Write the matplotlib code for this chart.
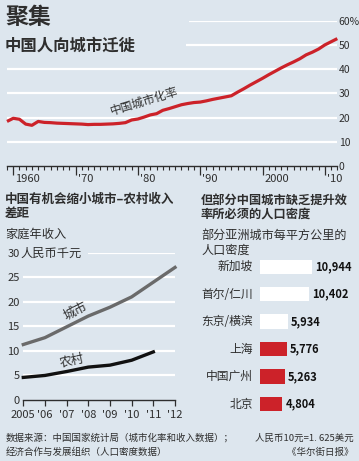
import numpy as np
import matplotlib
matplotlib.use("Agg")
import matplotlib.pyplot as plt

plt.rcParams['font.family'] = ['Noto Sans CJK SC', 'DejaVu Sans']

# ---- data ----
years_urb = list(range(1959, 2013))
urban_rate = [18.4, 19.7, 19.3, 17.3, 16.8, 18.4, 18.0, 17.9, 17.7, 17.6,
              17.5, 17.4, 17.3, 17.1, 17.2, 17.2, 17.3, 17.4, 17.6, 17.9,
              19.0, 19.4, 20.2, 21.1, 21.6, 23.0, 23.7, 24.5, 25.3, 25.8,
              26.2, 26.4, 26.9, 27.5, 28.0, 28.5, 29.0, 30.5, 31.9, 33.4,
              34.8, 36.2, 37.7, 39.1, 40.5, 41.8, 43.0, 44.3, 45.9, 47.0,
              48.3, 50.0, 51.3, 52.6]
urb_ticks = [1960, 1970, 1980, 1990, 2000, 2010]
urb_ticklabels = ['1960', "'70", "'80", "'90", '2000', "'10"]
urb_yticks = [0, 10, 20, 30, 40, 50, 60]
urb_yticklabels = ['0', '10', '20', '30', '40', '50', '60%']

inc_years = [2005, 2006, 2007, 2008, 2009, 2010, 2011, 2012]
inc_labels = ['2005', "'06", "'07", "'08", "'09", "'10", "'11", "'12"]
urban_income = [11.3, 12.7, 14.9, 17.1, 18.9, 21.0, 24.0, 27.0]
rural_years = [2005, 2006, 2007, 2008, 2009, 2010, 2011]
rural_income = [4.6, 5.0, 5.8, 6.7, 7.1, 8.1, 9.8]

cities = ['新加坡', '首尔/仁川', '东京/横滨', '上海', '中国广州', '北京']
density = [10944, 10402, 5934, 5776, 5263, 4804]
is_china = [False, False, False, True, True, True]

BG = '#dde6ee'
RED = '#cc2229'
TXT = '#2e2e2e'
W, H = 359, 461


def rect(x0, y0, x1, y1):
    return [x0 / W, 1 - y1 / H, (x1 - x0) / W, (y1 - y0) / H]


def fxy(x, y):
    return x / W, 1 - y / H


fig = plt.figure(figsize=(W / 100, H / 100), dpi=100, facecolor=BG)

# ---- top: urbanisation ----
ax = fig.add_axes(rect(7, 20.7, 337.3, 166))
ax.set_facecolor('none')
ax.set_xlim(1959, 2012)
ax.set_ylim(0, 60)
for s in ['top', 'left', 'right']:
    ax.spines[s].set_visible(False)
ax.spines['bottom'].set_color(TXT)
ax.spines['bottom'].set_linewidth(1)
grid_start = {10: 1959, 20: 1959, 30: 1959, 40: 1959, 50: 1987.7, 60: 1988.2}
for v in urb_yticks[1:]:
    ax.hlines(v, grid_start[v], 2012, color='white', lw=1.6, zorder=1)
ax.plot(years_urb, urban_rate, color=RED, lw=2.3, zorder=3,
        solid_capstyle='butt', clip_on=False)
ax.set_xticks(urb_ticks)
ax.set_xticklabels([])
ax.set_xticks(years_urb, minor=True)
ax.tick_params(axis='x', which='major', length=6.5, width=0.9, color=TXT)
ax.tick_params(axis='x', which='minor', length=3.2, width=0.8, color=TXT)
for t, lab in zip(urb_ticks, urb_ticklabels):
    ax.text(t + 0.35, -5.4, lab, ha='left', va='center', fontsize=8,
            color=TXT, clip_on=False)
ax.yaxis.tick_right()
ax.set_yticks(urb_yticks)
ax.set_yticklabels(urb_yticklabels, fontsize=7.5, color=TXT)
ax.tick_params(axis='y', length=0, pad=1)
ax.text(1981.0, 26.9, '中国城市化率', rotation=17, ha='center', va='center',
        fontsize=8.5, color=TXT)

fig.text(*fxy(5, 18), '聚集', fontsize=16.5, fontweight='bold', color=TXT,
         va='center', ha='left')
fig.text(*fxy(5, 46), '中国人向城市迁徙', fontsize=11.8, fontweight='bold',
         color=TXT, va='center', ha='left')

# ---- bottom left: income ----
ax2 = fig.add_axes(rect(23.3, 252.7, 175, 400))
ax2.set_facecolor('none')
ax2.set_xlim(2005, 2012)
ax2.set_ylim(0, 30)
for s in ['top', 'left', 'right']:
    ax2.spines[s].set_visible(False)
ax2.spines['bottom'].set_color(TXT)
ax2.spines['bottom'].set_linewidth(1)
for v in [5, 10, 15, 20, 25]:
    ax2.hlines(v, 2005, 2012, color='white', lw=1.6, zorder=1)
ax2.hlines(30, 2008, 2012, color='white', lw=1.6, zorder=1)
ax2.plot(inc_years, urban_income, color='#6a6a6a', lw=2.4, zorder=3,
         clip_on=False)
ax2.plot(rural_years, rural_income, color='#111111', lw=2.4, zorder=3,
         clip_on=False)
ax2.set_xticks(inc_years)
ax2.set_xticklabels(inc_labels, fontsize=8, color=TXT)
ax2.tick_params(axis='x', length=4.3, width=0.9, color=TXT, pad=3)
ax2.set_yticks([0, 5, 10, 15, 20, 25, 30])
ax2.set_yticklabels(['0', '5', '10', '15', '20', '25', '30'], fontsize=8,
                    color=TXT)
ax2.tick_params(axis='y', length=0, pad=2.6)
fig.text(*fxy(20, 253), '人民币千元', fontsize=8.8, color=TXT, va='center',
         ha='left')
ax2.text(2007.43, 18.1, '城市', rotation=27, ha='center', va='center',
         fontsize=9, color=TXT)
ax2.text(2007.25, 7.9, '农村', rotation=12, ha='center', va='center',
         fontsize=9, color=TXT)

fig.text(*fxy(5, 199), '中国有机会缩小城市–农村收入', fontsize=9,
         fontweight='bold', color=TXT, va='center', ha='left')
fig.text(*fxy(5, 214), '差距', fontsize=9, fontweight='bold', color=TXT,
         va='center', ha='left')
fig.text(*fxy(5, 234), '家庭年收入', fontsize=8.8, color=TXT, va='center',
         ha='left')

# ---- bottom right: density bars ----
ax3 = fig.add_axes(rect(259.5, 252.95, 350, 417.75))
ax3.set_facecolor('none')
ax3.set_xlim(0, 90.5 / 4.77 * 1000)
ax3.set_ylim(len(cities) - 0.5, -0.5)
ax3.axis('off')
ypos = np.arange(len(cities))
colors = [RED if c else 'white' for c in is_china]
ax3.barh(ypos, density, height=0.52, color=colors, edgecolor='none')
for y, name, d in zip(ypos, cities, density):
    ax3.annotate(name, (0, y), xytext=(-4.5, 0), textcoords='offset points',
                 ha='right', va='center', fontsize=8.5, color=TXT,
                 annotation_clip=False)
    ax3.annotate(f'{d:,}', (d, y), xytext=(2.3, 0), textcoords='offset points',
                 ha='left', va='center', fontsize=8, fontweight='bold',
                 color='#111111', annotation_clip=False)

fig.text(*fxy(201, 200), '但部分中国城市缺乏提升效', fontsize=8.8,
         fontweight='bold', color=TXT, va='center', ha='left')
fig.text(*fxy(201, 214), '率所必须的人口密度', fontsize=8.8,
         fontweight='bold', color=TXT, va='center', ha='left')
fig.text(*fxy(201, 235), '部分亚洲城市每平方公里的', fontsize=8.7,
         color=TXT, va='center', ha='left')
fig.text(*fxy(201, 250), '人口密度', fontsize=8.7, color=TXT, va='center',
         ha='left')

# ---- footer ----
fig.text(*fxy(6, 438), '数据来源：中国国家统计局（城市化率和收入数据）；',
         fontsize=6.8, color=TXT, va='center', ha='left')
fig.text(*fxy(354, 438), '人民币10元=1. 625美元', fontsize=6.8, color=TXT,
         va='center', ha='right')
fig.text(*fxy(6, 452), '经济合作与发展组织（人口密度数据）', fontsize=6.8,
         color=TXT, va='center', ha='left')
fig.text(*fxy(354, 452), '《华尔街日报》', fontsize=6.8, color=TXT,
         va='center', ha='right')

fig.savefig('out.png', dpi=100, facecolor=BG)
